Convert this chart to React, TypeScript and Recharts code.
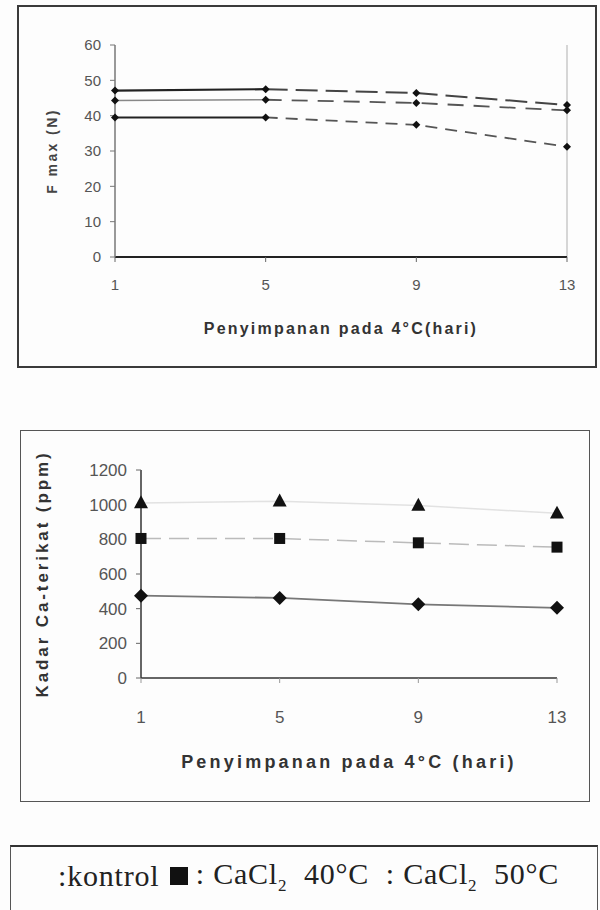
import React from 'react';
import { LineChart, Line, XAxis, YAxis, ReferenceLine } from 'recharts';

// ---- data ----
const days = [1, 5, 9, 13];
const dayTicks = [1, 5, 9, 13];
const fmaxTicks = [0, 10, 20, 30, 40, 50, 60];
const caTicks = [0, 200, 400, 600, 800, 1000, 1200];

// Top chart: F max (N)
const fmaxKontrol = [39.5, 39.5, 37.4, 31.2];
const fmaxCa40 = [44.3, 44.5, 43.6, 41.5];
const fmaxCa50 = [47.1, 47.5, 46.4, 43.0];

// Bottom chart: Kadar Ca-terikat (ppm)
const caKontrol = [475, 462, 425, 405];
const caCa40 = [805, 805, 780, 755];
const caCa50 = [1010, 1020, 995, 950];

const topTitleX = 'Penyimpanan pada 4°C(hari)';
const topTitleY = 'F max (N)';
const botTitleX = 'Penyimpanan pada 4°C (hari)';
const botTitleY = 'Kadar Ca-terikat (ppm)';

// segment split: first segment days 1..5, second segment 5..13
const topData = days.map((d, i) => ({
  day: d,
  k: fmaxKontrol[i],
  c40: fmaxCa40[i],
  c50: fmaxCa50[i],
  kA: d <= 5 ? fmaxKontrol[i] : null,
  c40A: d <= 5 ? fmaxCa40[i] : null,
  c50A: d <= 5 ? fmaxCa50[i] : null,
  kB: d >= 5 ? fmaxKontrol[i] : null,
  c40B: d >= 5 ? fmaxCa40[i] : null,
  c50B: d >= 5 ? fmaxCa50[i] : null,
}));

const botData = days.map((d, i) => ({
  day: d,
  k: caKontrol[i],
  c40: caCa40[i],
  c50: caCa50[i],
}));

// ---- marker shapes ----
const diamondDot = (s: number, fill: string) => (props: any) => {
  const { cx, cy, index } = props;
  if (cx == null || cy == null) return <g key={`dd-${index}`} />;
  return (
    <path
      key={`dd-${index}`}
      d={`M${cx},${cy - s} L${cx + s},${cy} L${cx},${cy + s} L${cx - s},${cy} Z`}
      fill={fill}
    />
  );
};
const squareDot = (s: number, fill: string) => (props: any) => {
  const { cx, cy, index } = props;
  if (cx == null || cy == null) return <g key={`sd-${index}`} />;
  return <rect key={`sd-${index}`} x={cx - s} y={cy - s} width={2 * s} height={2 * s} fill={fill} />;
};
const triDot = (s: number, fill: string) => (props: any) => {
  const { cx, cy, index } = props;
  if (cx == null || cy == null) return <g key={`td-${index}`} />;
  return (
    <path
      key={`td-${index}`}
      d={`M${cx},${cy - s * 1.1} L${cx + s},${cy + s * 0.75} L${cx - s},${cy + s * 0.75} Z`}
      fill={fill}
    />
  );
};

const FONT = '"Liberation Sans", Arial, sans-serif';
const SERIF = '"Liberation Serif", "Times New Roman", serif';

export default function App() {
  return (
    <div
      style={{
        position: 'absolute',
        left: 0,
        top: 0,
        width: 600,
        height: 910,
        background: '#fdfdfd',
        fontFamily: FONT,
        overflow: 'hidden',
      }}
    >
      {/* top chart frame */}
      <div
        style={{
          position: 'absolute',
          left: 17,
          top: 5,
          width: 580,
          height: 363,
          border: '2px solid #3a3a3a',
          boxSizing: 'border-box',
        }}
      />
      <div style={{ position: 'absolute', left: 17, top: 5 }}>
        <LineChart
          width={580}
          height={363}
          data={topData}
          margin={{ top: 40, right: 30, bottom: 81, left: 35 }}
          style={{ fontFamily: FONT }}
        >
          <XAxis
            type="number"
            dataKey="day"
            domain={[1, 13]}
            ticks={dayTicks}
            height={30}
            axisLine={{ stroke: '#222', strokeWidth: 2 }}
            tickLine={{ stroke: '#666' }}
            tickSize={5}
            tickMargin={17}
            tick={{ fill: '#555', fontSize: 15 }}
            label={{
              value: topTitleX,
              position: 'bottom',
              offset: 36,
              style: { fill: '#333', fontSize: 16, fontWeight: 700, letterSpacing: 2.2 },
            }}
          />
          <YAxis
            type="number"
            domain={[0, 60]}
            ticks={fmaxTicks}
            width={63}
            axisLine={{ stroke: '#777', strokeWidth: 1.5 }}
            tickLine={{ stroke: '#777' }}
            tickSize={5}
            tickMargin={9}
            tick={{ fill: '#555', fontSize: 15 }}
            label={{
              value: topTitleY,
              angle: -90,
              position: 'insideLeft',
              offset: 0,
              style: { textAnchor: 'middle', fill: '#444', fontSize: 14, fontWeight: 700, letterSpacing: 2.4 },
            }}
          />
          <ReferenceLine x={13} stroke="#c8c8c8" strokeWidth={1.5} />
          {/* first segments: solid */}
          <Line dataKey="c50A" stroke="#222" strokeWidth={2.2} dot={false} isAnimationActive={false} />
          <Line dataKey="c40A" stroke="#888" strokeWidth={1.5} dot={false} isAnimationActive={false} />
          <Line dataKey="kA" stroke="#222" strokeWidth={2} dot={false} isAnimationActive={false} />
          {/* later segments: broken */}
          <Line dataKey="c50B" stroke="#444" strokeWidth={2} strokeDasharray="22 8" dot={false} isAnimationActive={false} />
          <Line dataKey="c40B" stroke="#555" strokeWidth={1.8} strokeDasharray="16 10" dot={false} isAnimationActive={false} />
          <Line dataKey="kB" stroke="#555" strokeWidth={1.8} strokeDasharray="12 8" dot={false} isAnimationActive={false} />
          {/* markers */}
          <Line dataKey="c50" stroke="none" dot={diamondDot(4, '#111')} isAnimationActive={false} />
          <Line dataKey="c40" stroke="none" dot={diamondDot(4, '#111')} isAnimationActive={false} />
          <Line dataKey="k" stroke="none" dot={diamondDot(4, '#111')} isAnimationActive={false} />
        </LineChart>
      </div>

      {/* bottom chart frame */}
      <div
        style={{
          position: 'absolute',
          left: 20,
          top: 430,
          width: 570,
          height: 372,
          border: '1.5px solid #555',
          boxSizing: 'border-box',
        }}
      />
      <div style={{ position: 'absolute', left: 20, top: 430 }}>
        <LineChart
          width={570}
          height={372}
          data={botData}
          margin={{ top: 40, right: 33, bottom: 84, left: 22 }}
          style={{ fontFamily: FONT }}
        >
          <XAxis
            type="number"
            dataKey="day"
            domain={[1, 13]}
            ticks={dayTicks}
            height={40}
            axisLine={{ stroke: '#333', strokeWidth: 1.5 }}
            tickLine={{ stroke: '#999' }}
            tickSize={5}
            tickMargin={28}
            tick={{ fill: '#555', fontSize: 17 }}
            label={{
              value: botTitleX,
              position: 'bottom',
              offset: 37,
              style: { fill: '#333', fontSize: 18, fontWeight: 700, letterSpacing: 3.2 },
            }}
          />
          <YAxis
            type="number"
            domain={[0, 1200]}
            ticks={caTicks}
            width={99}
            axisLine={{ stroke: '#333', strokeWidth: 1.5 }}
            tickLine={{ stroke: '#666' }}
            tickSize={5}
            tickMargin={9}
            tick={{ fill: '#555', fontSize: 17 }}
            label={{
              value: botTitleY,
              angle: -90,
              position: 'insideLeft',
              offset: 0,
              style: { textAnchor: 'middle', fill: '#333', fontSize: 17, fontWeight: 700, letterSpacing: 2.9 },
            }}
          />
          <Line dataKey="c50" stroke="#e2e2e2" strokeWidth={1.5} dot={triDot(7, '#111')} isAnimationActive={false} />
          <Line
            dataKey="c40"
            stroke="#bbb"
            strokeWidth={1.5}
            strokeDasharray="20 8"
            dot={squareDot(5.5, '#111')}
            isAnimationActive={false}
          />
          <Line dataKey="k" stroke="#777" strokeWidth={1.8} dot={diamondDot(7, '#111')} isAnimationActive={false} />
        </LineChart>
      </div>

      {/* legend box */}
      <div
        style={{
          position: 'absolute',
          left: 10,
          top: 845,
          width: 588,
          height: 70,
          borderTop: '2.5px solid #333',
          borderLeft: '1.5px solid #555',
          borderRight: '1.5px solid #555',
          boxSizing: 'border-box',
        }}
      />
      <div
        style={{
          position: 'absolute',
          left: 58,
          top: 858,
          height: 36,
          display: 'flex',
          alignItems: 'center',
          fontFamily: SERIF,
          fontSize: 30,
          letterSpacing: 0.8,
          color: '#222',
          whiteSpace: 'pre',
        }}
      >
        <span>{':kontrol '}</span>
        <span
          style={{
            display: 'inline-block',
            width: 18,
            height: 18,
            background: '#111',
            margin: '0 8px 0 2px',
          }}
        />
        <span>
          {': CaCl'}
          <sub style={{ fontSize: 17 }}>2</sub>
          {'  40°C  : CaCl'}
          <sub style={{ fontSize: 17 }}>2</sub>
          {'  50°C'}
        </span>
      </div>
    </div>
  );
}
